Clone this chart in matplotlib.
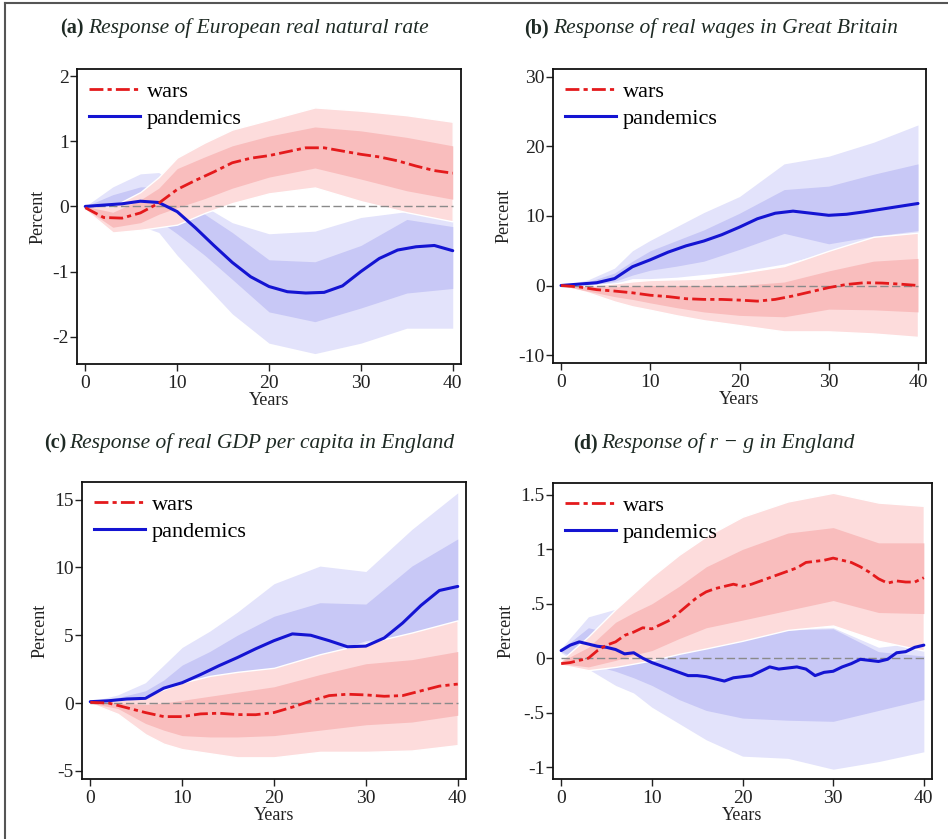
import numpy as np
import matplotlib
matplotlib.use('Agg')
import matplotlib.pyplot as plt
from matplotlib.lines import Line2D

plt.rcParams['font.family'] = ['Liberation Serif', 'DejaVu Serif']
plt.rcParams['axes.unicode_minus'] = False

# years on the horizontal axis
yrs = np.arange(0, 41, 2)
yrs_d = np.arange(0, 41)
band_yrs = [0, 3, 6, 8, 10, 13, 16, 20, 25, 30, 35, 40]

# (a) European real natural rate
wars_a = [-0.02, -0.17, -0.18, -0.10, 0.05, 0.26, 0.40, 0.53, 0.67, 0.74, 0.78,
          0.84, 0.90, 0.90, 0.85, 0.80, 0.76, 0.70, 0.62, 0.55, 0.51]
pand_a = [0.0, 0.02, 0.04, 0.08, 0.06, -0.08, -0.33, -0.60, -0.86, -1.08, -1.23,
          -1.31, -1.33, -1.32, -1.22, -1.00, -0.80, -0.67, -0.62, -0.60, -0.68]
wars_a_lo90 = [-0.05, -0.40, -0.36, -0.32, -0.28, -0.10, 0.05, 0.20, 0.29, 0.08, -0.09, -0.23]
wars_a_hi90 = [0.02, 0.00, 0.22, 0.45, 0.75, 0.98, 1.18, 1.33, 1.52, 1.47, 1.40, 1.30]
wars_a_lo68 = [-0.03, -0.32, -0.25, -0.12, -0.02, 0.12, 0.28, 0.45, 0.59, 0.42, 0.24, 0.11]
wars_a_hi68 = [0.0, -0.09, 0.10, 0.28, 0.58, 0.76, 0.93, 1.08, 1.22, 1.16, 1.06, 0.93]
pand_a_lo90 = [0.0, -0.15, -0.30, -0.40, -0.75, -1.20, -1.65, -2.10, -2.26, -2.10, -1.87, -1.87]
pand_a_hi90 = [0.0, 0.30, 0.50, 0.52, 0.30, 0.00, -0.25, -0.42, -0.38, -0.17, -0.08, -0.12]
pand_a_lo68 = [0.0, -0.08, -0.15, -0.22, -0.42, -0.75, -1.12, -1.62, -1.77, -1.56, -1.33, -1.26]
pand_a_hi68 = [0.0, 0.18, 0.30, 0.30, 0.15, -0.12, -0.40, -0.82, -0.85, -0.60, -0.20, -0.31]

# (b) real wages in Great Britain
wars_b = [0.0, -0.2, -0.6, -0.8, -1.05, -1.4, -1.6, -1.9, -2.0, -2.0, -2.1,
          -2.25, -2.0, -1.5, -0.9, -0.3, 0.15, 0.4, 0.35, 0.2, 0.0]
pand_b = [0.0, 0.2, 0.4, 1.0, 2.7, 3.7, 4.8, 5.7, 6.4, 7.3, 8.4,
          9.6, 10.4, 10.7, 10.4, 10.1, 10.25, 10.6, 11.0, 11.4, 11.8]
wars_b_lo90 = [0.0, -1.0, -2.3, -3.0, -3.5, -4.3, -5.0, -5.7, -6.6, -6.6, -6.9, -7.4]
wars_b_hi90 = [0.0, 0.0, 0.3, 0.6, 0.8, 0.9, 1.0, 1.8, 2.8, 5.0, 7.0, 7.6]
wars_b_lo68 = [0.0, -0.8, -1.6, -2.0, -2.5, -3.2, -3.8, -4.3, -4.5, -3.4, -3.5, -3.8]
wars_b_hi68 = [0.0, -0.2, -0.2, -0.1, 0.0, 0.0, 0.0, 0.0, 0.5, 2.1, 3.5, 3.9]
pand_b_lo90 = [0.0, 0.0, 0.3, 1.0, 1.0, 1.2, 1.6, 2.0, 3.1, 4.8, 6.5, 7.5]
pand_b_hi90 = [0.0, 0.8, 2.5, 5.0, 6.5, 8.5, 10.5, 12.8, 17.5, 18.6, 20.6, 23.1]
pand_b_lo68 = [0.0, 0.0, 0.6, 1.5, 2.2, 2.8, 3.5, 5.2, 7.5, 6.0, 7.1, 7.9]
pand_b_hi68 = [0.0, 0.5, 1.8, 3.5, 5.0, 6.5, 8.0, 10.4, 13.8, 14.3, 16.0, 17.5]

# (c) real GDP per capita in England
wars_c = [0.05, 0.0, -0.35, -0.7, -1.0, -1.0, -0.8, -0.75, -0.85, -0.86, -0.7,
          -0.3, 0.15, 0.55, 0.65, 0.6, 0.5, 0.55, 0.9, 1.25, 1.4]
pand_c = [0.1, 0.17, 0.3, 0.35, 1.1, 1.5, 2.1, 2.75, 3.35, 4.0, 4.6,
          5.1, 5.0, 4.6, 4.15, 4.2, 4.8, 5.9, 7.2, 8.3, 8.6]
wars_c_lo90 = [0.0, -0.8, -2.3, -3.0, -3.4, -3.7, -4.0, -4.0, -3.6, -3.6, -3.5, -3.1]
wars_c_hi90 = [0.1, 0.2, 0.5, 1.0, 1.5, 2.0, 2.3, 2.6, 3.6, 4.4, 5.2, 6.1]
wars_c_lo68 = [0.0, -0.4, -1.5, -2.0, -2.4, -2.5, -2.5, -2.4, -2.0, -1.6, -1.4, -0.9]
wars_c_hi68 = [0.1, 0.0, -0.1, 0.0, 0.2, 0.5, 0.8, 1.2, 2.1, 2.9, 3.2, 3.8]
pand_c_lo90 = [0.1, 0.1, 0.1, 0.2, 0.3, 0.6, 1.0, 1.5, 2.5, 3.5, 4.5, 5.5]
pand_c_hi90 = [0.1, 0.6, 1.5, 2.8, 4.1, 5.3, 6.7, 8.8, 10.1, 9.7, 12.8, 15.5]
pand_c_lo68 = [0.1, 0.15, 0.2, 0.3, 0.6, 1.2, 1.8, 2.5, 3.5, 4.6, 5.0, 6.1]
pand_c_hi68 = [0.1, 0.4, 0.9, 1.7, 2.8, 3.8, 5.0, 6.4, 7.4, 7.3, 10.1, 12.1]

# (d) r - g in England (yearly)
wars_d = [-0.05, -0.04, -0.02, 0.0, 0.07, 0.12, 0.15, 0.21, 0.24, 0.28, 0.27,
          0.31, 0.35, 0.42, 0.49, 0.56, 0.61, 0.64, 0.66, 0.68, 0.66,
          0.68, 0.71, 0.74, 0.77, 0.80, 0.83, 0.88, 0.89, 0.90, 0.92,
          0.90, 0.88, 0.84, 0.79, 0.73, 0.69, 0.71, 0.70, 0.70, 0.74]
pand_d = [0.07, 0.12, 0.15, 0.13, 0.11, 0.10, 0.08, 0.04, 0.05, 0.0, -0.04,
          -0.07, -0.10, -0.13, -0.16, -0.16, -0.17, -0.19, -0.21, -0.18, -0.17,
          -0.16, -0.12, -0.08, -0.10, -0.09, -0.08, -0.10, -0.16, -0.13, -0.12,
          -0.08, -0.05, -0.01, -0.02, -0.03, -0.01, 0.05, 0.06, 0.10, 0.12]
wars_d_lo90 = [-0.06, -0.11, -0.08, -0.05, -0.02, 0.04, 0.09, 0.16, 0.26, 0.30, 0.16, 0.07]
wars_d_hi90 = [-0.02, 0.20, 0.45, 0.60, 0.75, 0.95, 1.12, 1.30, 1.44, 1.52, 1.43, 1.40]
wars_d_lo68 = [-0.05, -0.08, -0.02, 0.03, 0.07, 0.18, 0.28, 0.35, 0.44, 0.53, 0.42, 0.41]
wars_d_hi68 = [-0.03, 0.10, 0.33, 0.42, 0.50, 0.66, 0.84, 1.00, 1.15, 1.20, 1.06, 1.06]
pand_d_lo90 = [0.05, -0.10, -0.25, -0.32, -0.45, -0.60, -0.75, -0.90, -0.92, -1.02, -0.95, -0.86]
pand_d_hi90 = [0.09, 0.38, 0.45, 0.38, 0.22, 0.12, 0.15, 0.20, 0.27, 0.28, 0.10, 0.15]
pand_d_lo68 = [0.06, -0.05, -0.12, -0.18, -0.25, -0.38, -0.48, -0.55, -0.57, -0.58, -0.48, -0.38]
pand_d_hi68 = [0.08, 0.28, 0.22, 0.12, 0.05, 0.08, 0.14, 0.19, 0.26, 0.27, 0.06, 0.02]

titles = [('(a)', 'Response of European real natural rate'),
          ('(b)', 'Response of real wages in Great Britain'),
          ('(c)', 'Response of real GDP per capita in England'),
          ('(d)', 'Response of r \u2212 g in England')]

RED, BLUE = '#e41a1c', '#1414d2'
RED_L, RED_D = '#fddcdc', '#f9bdbd'
BLUE_L, BLUE_D = '#e3e3fb', '#c8c8f6'
WAR_LS = (0, (5, 1.5, 1.5, 1.5))

W, H = 948, 839
fig = plt.figure(figsize=(W / 100, H / 100), dpi=100)

# pixel boxes (left, top, right, bottom)
boxes = [(77, 69, 461, 364), (553, 69, 926, 363), (82, 482, 466, 779), (553, 483, 932, 779)]
ylims = [(-2.42, 2.11), (-11.15, 31.15), (-5.6, 16.3), (-1.11, 1.61)]
yticks = [[-2, -1, 0, 1, 2], [-10, 0, 10, 20, 30], [-5, 0, 5, 10, 15], [-1, -0.5, 0, 0.5, 1, 1.5]]
ytlabels = [None, None, None, ['-1', '-.5', '0', '.5', '1', '1.5']]
# title anchor: x where bold label ends, x where italic starts, y centre
tpos = [(84, 88, 28), (549, 553, 28), (66, 69, 443), (598, 601, 443)]

panels = [
    (yrs, wars_a, pand_a, (wars_a_lo90, wars_a_hi90, wars_a_lo68, wars_a_hi68),
     (pand_a_lo90, pand_a_hi90, pand_a_lo68, pand_a_hi68)),
    (yrs, wars_b, pand_b, (wars_b_lo90, wars_b_hi90, wars_b_lo68, wars_b_hi68),
     (pand_b_lo90, pand_b_hi90, pand_b_lo68, pand_b_hi68)),
    (yrs, wars_c, pand_c, (wars_c_lo90, wars_c_hi90, wars_c_lo68, wars_c_hi68),
     (pand_c_lo90, pand_c_hi90, pand_c_lo68, pand_c_hi68)),
    (yrs_d, wars_d, pand_d, (wars_d_lo90, wars_d_hi90, wars_d_lo68, wars_d_hi68),
     (pand_d_lo90, pand_d_hi90, pand_d_lo68, pand_d_hi68)),
]

for i, (x, w, p, wb, pb) in enumerate(panels):
    l, t, r, b = boxes[i]
    ax = fig.add_axes([l / W, 1 - b / H, (r - l) / W, (b - t) / H])

    # bands: pandemics first, wars on top
    ax.fill_between(band_yrs, pb[0], pb[1], color=BLUE_L, lw=0)
    ax.fill_between(band_yrs, pb[2], pb[3], color=BLUE_D, lw=0)
    ax.fill_between(band_yrs, wb[0], wb[1], facecolor=RED_L, edgecolor='white', lw=1.0)
    ax.fill_between(band_yrs, wb[2], wb[3], color=RED_D, lw=0)

    ax.plot([0, 40], [0, 0], color='#8a8a8a', lw=1.0, ls=(0, (6, 2.5)))
    ax.plot(x, p, color=BLUE, lw=2.2, solid_capstyle='round')
    ax.plot(x, w, color=RED, lw=2.0, ls=WAR_LS)

    ax.set_xlim(-0.9, 40.9)
    ax.set_ylim(*ylims[i])
    ax.set_xticks([0, 10, 20, 30, 40])
    ax.set_yticks(yticks[i])
    if ytlabels[i] is not None:
        ax.set_yticklabels(ytlabels[i])
    ax.tick_params(direction='out', length=5, width=1, labelsize=14,
                   colors='#222222')
    ax.tick_params(axis='x', pad=3)
    ax.tick_params(axis='y', pad=1)
    for s in ax.spines.values():
        s.set_linewidth(1.3)
        s.set_color('#111111')
    ax.set_xlabel('Years', fontsize=13, labelpad=0, color='#222222')
    ax.set_ylabel('Percent', fontsize=13, labelpad=4, color='#222222')

    handles = [Line2D([], [], color=RED, lw=2.0, ls=WAR_LS),
               Line2D([], [], color=BLUE, lw=2.2)]
    ax.legend(handles, ['wars', 'pandemics'], loc='upper left', frameon=False,
              fontsize=16, handlelength=2.3, handletextpad=0.3, labelspacing=0.3,
              borderaxespad=0.2, borderpad=0.35)

    xb, xi, yc = tpos[i]
    fig.text(xb / W, 1 - yc / H, titles[i][0], ha='right', va='center',
             fontsize=14.5, fontweight='bold', color='#1e2a24')
    fig.text(xi / W, 1 - yc / H, titles[i][1], ha='left', va='center',
             fontsize=15.5, style='italic', color='#1e2a24')

# outer frame lines of the screenshot
fig.add_artist(Line2D([5 / W, 5 / W], [0, 1 - 3 / H], transform=fig.transFigure,
                      color='#555555', lw=1.5))
fig.add_artist(Line2D([5 / W, 1], [1 - 3 / H, 1 - 3 / H], transform=fig.transFigure,
                      color='#555555', lw=1.5))

fig.savefig('out.png', dpi=100)
